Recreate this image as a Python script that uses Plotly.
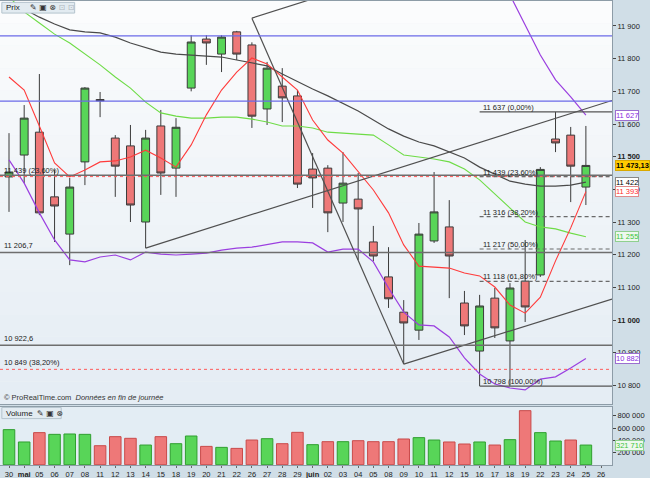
import plotly.graph_objects as go

# ---------------- data ----------------
labels = ["30", "mai", "05", "06", "07", "08", "11", "12", "13", "14", "15", "18", "19", "20",
          "21", "22", "26", "27", "28", "29", "juin", "02", "03", "04", "05", "08", "09", "10",
          "11", "12", "15", "16", "17", "18", "19", "22", "23", "24", "25", "26"]
month_labels = ["mai", "juin"]

opens = [11438, 11505, 11575, 11377, 11263, 11484, 11675, 11557, 11533, 11300, 11594, 11465, 11710,
         11860, 11814, 11882, 11842, 11646, 11716, 11686, 11462, 11465, 11358, 11370, 11239, 11132,
         11024, 10969, 11242, 11285, 11052, 10905, 11067, 10936, 11119, 11138, 11554, 11566, 11407]
highs = [11572, 11658, 11753, 11459, 11435, 11713, 11698, 11566, 11597, 11582, 11643, 11618, 11872,
         11872, 11872, 11885, 11850, 11790, 11771, 11704, 11511, 11474, 11514, 11450, 11288, 11223,
         11061, 11297, 11453, 11367, 11089, 11077, 11098, 11113, 11245, 11468, 11637, 11591, 11594]
lows = [11331, 11419, 11321, 11239, 11168, 11413, 11621, 11377, 11300, 11220, 11383, 11377, 11700,
        11781, 11759, 11796, 11588, 11597, 11606, 11404, 11343, 11269, 11300, 11184, 11180, 11037,
        10865, 10939, 11236, 11067, 10954, 10798, 10945, 10801, 10994, 11132, 11514, 11361, 11352]
closes = [11453, 11618, 11328, 11349, 11407, 11710, 11671, 11471, 11352, 11557, 11450, 11590, 11851,
          11848, 11866, 11814, 11624, 11771, 11680, 11416, 11435, 11328, 11419, 11340, 11196, 11065,
          10991, 11263, 11331, 11196, 10982, 11043, 10976, 11098, 11040, 11461, 11542, 11471, 11473.13]
volumes = [574000, 372000, 525000, 497000, 503000, 497000, 311000, 459000, 432000, 322000, 459000,
           344000, 470000, 300000, 284000, 267000, 404000, 426000, 344000, 530000, 328000, 377000,
           377000, 393000, 377000, 377000, 421000, 443000, 404000, 372000, 339000, 372000, 322000,
           410000, 885000, 525000, 388000, 404000, 321710]

ma_red = [11744, 11704, 11594, 11481, 11438, 11459, 11484, 11487, 11499, 11520, 11496, 11468, 11536,
          11628, 11704, 11759, 11802, 11784, 11744, 11704, 11612, 11551, 11511, 11456, 11398, 11328,
          11230, 11165, 11162, 11159, 11144, 11135, 11101, 11046, 11021, 11070, 11181, 11282, 11393]
ma_green = [11989, 11943, 11909, 11875, 11848, 11814, 11781, 11744, 11710, 11667, 11634, 11624, 11618,
            11618, 11621, 11621, 11615, 11606, 11594, 11594, 11588, 11575, 11572, 11569, 11566, 11536,
            11505, 11499, 11493, 11484, 11462, 11429, 11386, 11346, 11300, 11285, 11279, 11266, 11255]
ma_black = [11970, 11952, 11927, 11906, 11888, 11882, 11879, 11866, 11848, 11833, 11820, 11814, 11811,
            11808, 11805, 11796, 11787, 11778, 11753, 11729, 11707, 11686, 11664, 11640, 11612, 11585,
            11563, 11545, 11533, 11514, 11496, 11468, 11447, 11425, 11416, 11410, 11410, 11413, 11422]
bb_lower = [11490, 11419, 11328, 11245, 11184, 11178, 11193, 11199, 11184, 11208, 11202, 11199, 11202,
            11205, 11214, 11220, 11223, 11230, 11239, 11239, 11236, 11208, 11217, 11217, 11178, 11098,
            11024, 10985, 10982, 10948, 10884, 10835, 10804, 10792, 10786, 10819, 10826, 10853, 10882]
bb_upper = [None] * 33 + [11995, 11903, 11811, 11735, 11683, 11627]

# drawn objects (index on the day axis, price)
trend_lines = [
    ([9, 39.72], [11220, 11672]),
    ([16, 26], [11924, 10865]),
    ([26, 39.72], [10865, 11064]),
    ([16, 21], [11924, 11998]),
]
gray_levels = [11443, 11206.7, 10922.6]
gray_level_text = [None, "11 206,7", "10 922,6"]
blue_levels = [11870, 11670]
red_dash_levels = [11439, 10849]
red_dash_text = ["11 439 (23,60%)", "10 849 (38,20%)"]
fib_start_index = 31
fib_high = 11637.0
fib_low = 10797.9
fib_ratios = [0.0, 0.236, 0.382, 0.5, 0.618, 1.0]

price_ticks = [10800, 10900, 11000, 11100, 11200, 11300, 11400, 11500, 11600, 11700, 11800, 11900]
price_ticks_bold = [11000, 11500]
volume_ticks = [200000, 400000, 600000, 800000]

# ---------------- helpers ----------------
FONT = "Liberation Sans"


def fmt(v, dec=0):
    s = f"{v:,.{dec}f}"
    return s.replace(",", " ").replace(".", ",")


n = len(closes)
xi = list(range(n))
XMIN, XMAX = -0.593, 39.72
PMIN, PMAX = 10743, 11976.5
VMIN, VMAX = -5000, 945000

UP_FILL, DN_FILL = "#58d558", "#ee7878"
UP_EDGE, DN_EDGE = "#2f9f2f", "#c94a4a"

fig = go.Figure()

fig.add_trace(go.Candlestick(
    x=xi, open=opens, high=highs, low=lows, close=closes,
    increasing=dict(fillcolor=UP_FILL, line=dict(color="#3b3b3b", width=1)),
    decreasing=dict(fillcolor=DN_FILL, line=dict(color="#3b3b3b", width=1)),
    whiskerwidth=0, xaxis="x", yaxis="y", showlegend=False, hoverinfo="skip"))

line_specs = [
    (ma_green, "#6edc46", 1.1),
    (ma_black, "#4a4a4a", 1.2),
    (bb_lower, "#9b3fe0", 1.2),
    (bb_upper, "#9b3fe0", 1.2),
    (ma_red, "#ff3b3b", 1.1),
]
for ys, col, w in line_specs:
    fig.add_trace(go.Scatter(x=xi, y=ys, mode="lines", line=dict(color=col, width=w),
                             xaxis="x", yaxis="y", showlegend=False, hoverinfo="skip",
                             connectgaps=False))

for tx, ty in trend_lines:
    fig.add_trace(go.Scatter(x=tx, y=ty, mode="lines", line=dict(color="#505050", width=1.2),
                             xaxis="x", yaxis="y", showlegend=False, hoverinfo="skip"))

# volume bars: colour by close versus previous close
vol_up = [True] + [closes[i] >= closes[i - 1] for i in range(1, n)]
fig.add_trace(go.Bar(
    x=xi, y=volumes, width=0.76,
    marker=dict(color=[UP_FILL if u else DN_FILL for u in vol_up],
                line=dict(color=[UP_EDGE if u else DN_EDGE for u in vol_up], width=1)),
    xaxis="x2", yaxis="y2", showlegend=False, hoverinfo="skip"))

shapes = []
# background gradient of price panel
nb = 18
for k in range(nb):
    t = k / (nb - 1)
    r = int(229 + (251 - 229) * t)
    g = int(237 + (252 - 237) * t)
    b = int(244 + (253 - 244) * t)
    shapes.append(dict(type="rect", xref="x domain", yref="y domain", x0=0, x1=1,
                       y0=k / nb, y1=(k + 1) / nb, fillcolor=f"rgb({r},{g},{b})",
                       line=dict(width=0), layer="below"))
shapes.append(dict(type="rect", xref="x2 domain", yref="y2 domain", x0=0, x1=1, y0=0, y1=1,
                   fillcolor="#e3edf4", line=dict(width=0), layer="below"))

for lv in blue_levels:
    shapes.append(dict(type="line", xref="x domain", yref="y", x0=0, x1=1, y0=lv, y1=lv,
                       line=dict(color="#6b6be8", width=1.2)))
for lv in gray_levels:
    shapes.append(dict(type="line", xref="x domain", yref="y", x0=0, x1=1, y0=lv, y1=lv,
                       line=dict(color="#6e6e6e", width=1.6)))
for lv in red_dash_levels:
    shapes.append(dict(type="line", xref="x domain", yref="y", x0=0, x1=1, y0=lv, y1=lv,
                       line=dict(color="#ff5a5a", width=1, dash="3px,3px")))

fib_levels = [fib_high - r * (fib_high - fib_low) for r in fib_ratios]
for r, lv in zip(fib_ratios, fib_levels):
    solid = r in (0.0, 1.0)
    shapes.append(dict(type="line", xref="x", yref="y", x0=fib_start_index, x1=XMAX, y0=lv, y1=lv,
                       line=dict(color="#555555" if solid else "#6a6a6a", width=1.2,
                                 dash="solid" if solid else "4px,3px")))

# header boxes
shapes.append(dict(type="rect", xref="paper", yref="paper", x0=0.003, x1=0.122, y0=0.974, y1=0.997,
                   fillcolor="#e2ebf1", line=dict(color="#b4c3cd", width=1)))
shapes.append(dict(type="rect", xref="paper", yref="paper", x0=0.003, x1=0.100, y0=0.100, y1=0.124,
                   fillcolor="#e2ebf1", line=dict(color="#b4c3cd", width=1)))

ann = []
small = dict(family=FONT, size=7.5, color="#222222")
for lv, txt in zip(gray_levels, gray_level_text):
    if txt:
        ann.append(dict(xref="paper", yref="y", x=0.004, y=lv, text=txt, showarrow=False,
                        xanchor="left", yanchor="bottom", font=small))
for lv, txt in zip(red_dash_levels, red_dash_text):
    ann.append(dict(xref="paper", yref="y", x=0.004, y=lv, text=txt, showarrow=False,
                    xanchor="left", yanchor="bottom", font=small))
for r, lv in zip(fib_ratios, fib_levels):
    txt = f"{fmt(round(lv))} ({fmt(r * 100, 2)}%)"
    ann.append(dict(xref="x", yref="y", x=fib_start_index, y=lv, text=txt, showarrow=False,
                    xanchor="left", yanchor="bottom", xshift=1, yshift=-2, font=small))

# right-axis value boxes
box_specs = [
    ("y", bb_upper[-1], fmt(bb_upper[-1]), "#8a2be2", "white", "#9b6fd0"),
    ("y", closes[-1], "<b>" + fmt(closes[-1], 2) + "</b>", "#000000", "#ffcc00", "#d9a800"),
    ("y", ma_black[-1], fmt(ma_black[-1]), "#000000", "white", "#888888"),
    ("y", ma_red[-1], fmt(ma_red[-1]), "#ff2a2a", "white", "#e08a8a"),
    ("y", ma_green[-1], fmt(ma_green[-1]), "#3cc43c", "#eef8ee", "#8fd08f"),
    ("y", bb_lower[-1], fmt(bb_lower[-1]), "#8a2be2", "white", "#9b6fd0"),
    ("y2", volumes[-1], fmt(volumes[-1]), "#3cc43c", "#eef8ee", "#8fd08f"),
]
for yr, yv, txt, fc, bg, bc in box_specs:
    ann.append(dict(xref="paper", yref=yr, x=1, y=yv, text=txt, showarrow=False, xanchor="left",
                    yanchor="middle", xshift=3, bgcolor=bg, bordercolor=bc, borderwidth=1,
                    borderpad=0, font=dict(family=FONT, size=7.5, color=fc)))

ann.append(dict(xref="paper", yref="paper", x=0.006, y=0.985, text="Prix", showarrow=False,
                xanchor="left", yanchor="middle", font=dict(family=FONT, size=8, color="#222")))
ann.append(dict(xref="paper", yref="paper", x=0.045, y=0.985, text="✎ ▣ ⊗ <span style='color:#b0b8bf'>⊡ ⊡</span>",
                showarrow=False, xanchor="left", yanchor="middle",
                font=dict(family="DejaVu Sans", size=8, color="#333")))
ann.append(dict(xref="paper", yref="paper", x=0.006, y=0.112, text="Volume", showarrow=False,
                xanchor="left", yanchor="middle", font=dict(family=FONT, size=8, color="#222")))
ann.append(dict(xref="paper", yref="paper", x=0.058, y=0.112, text="✎ ▣ ⊗", showarrow=False,
                xanchor="left", yanchor="middle", font=dict(family="DejaVu Sans", size=8, color="#333")))
ann.append(dict(xref="paper", yref="paper", x=0.004, y=0.146,
                text="© ProRealTime.com  <i>Données en fin de journée</i>", showarrow=False,
                xanchor="left", yanchor="middle", font=dict(family=FONT, size=7.5, color="#333")))

tick_text_x = [f"<b>{l}</b>" if l in month_labels else l for l in labels]
tick_text_p = [f"<b>{fmt(v)}</b>" if v in price_ticks_bold else fmt(v) for v in price_ticks]

axis_common = dict(showgrid=False, zeroline=False, showline=True, mirror=True, linecolor="#8d9ca7",
                   linewidth=1)

fig.update_layout(
    width=650, height=478, margin=dict(l=0, r=38, t=1, b=13),
    paper_bgcolor="#d0dee7", plot_bgcolor="#eef3f7", showlegend=False,
    boxgap=0.26, bargap=0.24, shapes=shapes, annotations=ann,
    xaxis=dict(domain=[0, 1], range=[XMIN, XMAX], anchor="y", showticklabels=False, ticks="",
               rangeslider=dict(visible=False), **axis_common),
    yaxis=dict(domain=[0.1315, 1], range=[PMIN, PMAX], anchor="x", side="right",
               tickvals=price_ticks, ticktext=tick_text_p, ticks="outside", ticklen=3,
               tickcolor="#444", tickfont=dict(family=FONT, size=7.5, color="#222"), **axis_common),
    xaxis2=dict(domain=[0, 1], range=[XMIN, XMAX], anchor="y2", tickvals=list(range(len(labels))),
                ticktext=tick_text_x, ticks="outside", ticklen=2, tickcolor="#666",
                tickfont=dict(family=FONT, size=7.5, color="#222"), **axis_common),
    yaxis2=dict(domain=[0, 0.125], range=[VMIN, VMAX], anchor="x2", side="right",
                tickvals=volume_ticks, ticktext=[fmt(v) for v in volume_ticks], ticks="outside",
                ticklen=3, tickcolor="#444", tickfont=dict(family=FONT, size=7.5, color="#222"),
                **axis_common),
)

fig.write_html("out.html", config={"displayModeBar": False},
               post_script="document.body.style.margin='0';document.body.style.overflow='hidden';")
